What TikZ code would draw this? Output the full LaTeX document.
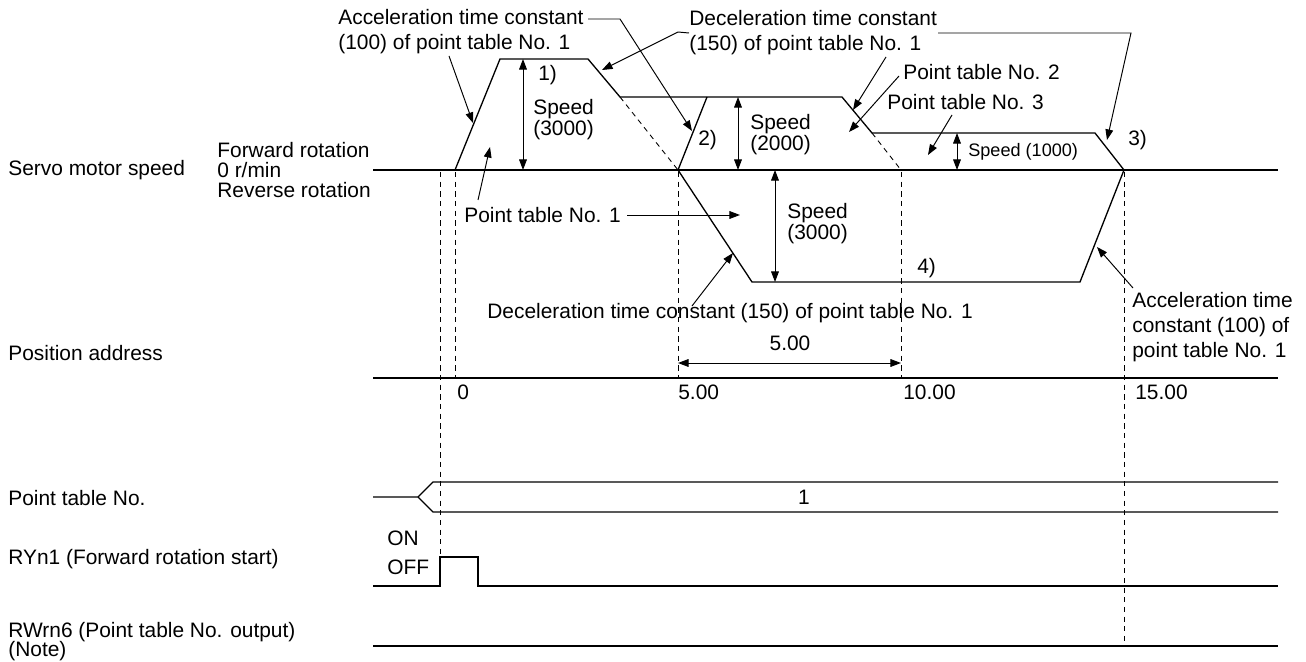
\documentclass[tikz,border=0pt]{standalone}
\usepackage{fontspec}
\setmainfont{Liberation Sans}
\usetikzlibrary{arrows.meta}

\begin{document}
\begin{tikzpicture}[
    x=0.02cm, y=-0.02cm,
    lbl/.style={inner sep=0pt, anchor=west, align=left,
      font=\fontsize{11.9}{14.2}\selectfont},
    tight/.style={lbl, font=\fontsize{11.9}{11.9}\selectfont},
    small/.style={lbl, font=\fontsize{10.3}{12}\selectfont},
    wave/.style={line width=0.75pt, line join=miter},
    guide/.style={line width=0.5pt, dash pattern=on 3pt off 2.5pt},
    lead/.style={line width=0.55pt, -{Triangle[length=6pt,width=4.4pt]}},
    dim/.style={line width=0.55pt,
      {Triangle[length=6pt,width=4.4pt]}-{Triangle[length=6pt,width=4.4pt]}},
  ]
  \useasboundingbox (0,0) rectangle (1306,662);

  % row labels
  \node[lbl] (servo) at (8,170) {Servo motor speed};
  \node[lbl, font=\fontsize{11.9}{11.3}\selectfont] (rot) at (217,170)
  {Forward rotation\\0 r/min\\Reverse rotation};
  \node[lbl] (posaddr) at (8,353) {Position address};
  \node[lbl] (ptno) at (8,498) {Point table No.};
  \node[lbl] (ryn1) at (8,559) {RYn1 (Forward rotation start)};
  \node[lbl] (on) at (387,538) {ON};
  \node[lbl] (off) at (387,567) {OFF};
  \node[lbl] (rwrn6) at (8,632) {RWrn6 (Point table No. output)};
  \node[lbl] (note) at (8,651) {(Note)};

  % speed waveform corners
  \coordinate (f0) at (455,170);
  \coordinate (f1) at (500,59);
  \coordinate (f2) at (588,59);
  \coordinate (f3) at (620,97);
  \coordinate (f4) at (842,97);
  \coordinate (f5) at (872,133);
  \coordinate (f6) at (1095,133);
  \coordinate (f7) at (1124,170);
  \coordinate (g0) at (678,170);
  \coordinate (g1) at (707,97);
  \coordinate (r1) at (752,282);
  \coordinate (r2) at (1080,282);
  \coordinate (z0) at (373,170);
  \coordinate (z1) at (1278,170);

  \draw[wave] (z0) -- (z1);
  \draw[wave] (f0) -- (f1) -- (f2) -- (f3) -- (f4) -- (f5) -- (f6) -- (f7);
  \draw[wave] (g0) -- (g1);
  \draw[wave] (g0) -- (r1) -- (r2) -- (f7);
  \draw[guide] (f3) -- (g0);
  \draw[guide] (f5) -- (901,170);

  % position address
  \coordinate (p0) at (373,378);
  \coordinate (p1) at (1278,378);
  \draw[wave] (p0) -- (p1);
  \node[lbl] (pos0) at (457,392) {0};
  \node[lbl] (pos5) at (678,392) {5.00};
  \node[lbl] (pos10) at (903,392) {10.00};
  \node[lbl] (pos15) at (1135,392) {15.00};

  % timing guides
  \draw[guide] (440,172) -- (440,557);
  \draw[guide] (455,172) -- (455,378);
  \draw[guide] (678,172) -- (678,378);
  \draw[guide] (901,172) -- (901,378);
  \draw[guide] (1124,172) -- (1124,646);

  % point table No.
  \draw[wave] (373,497) -- (418,497) -- (433,482) -- (1278,482);
  \draw[wave] (418,497) -- (433,512) -- (1278,512);
  \node[lbl, anchor=center] (pt1) at (804,497) {1};

  % RYn1 and RWrn6
  \draw[wave] (373,586) -- (440,586) -- (440,557) -- (478,557)
    -- (478,586) -- (1278,586);
  \draw[wave] (373,646) -- (1278,646);

  % speed values
  \draw[dim] (523,59) -- (523,170);
  \node[tight] (spd1) at (533,120) {Speed\\(3000)};
  \node[lbl] (m1) at (538,75) {1)};
  \draw[dim] (738,97) -- (738,170);
  \node[tight] (spd2) at (750,135) {Speed\\(2000)};
  \node[lbl] (m2) at (698,140) {2)};
  \draw[dim] (957,133) -- (957,170);
  \node[small] (spd3) at (968,152) {Speed (1000)};
  \node[lbl] (m3) at (1128,140) {3)};
  \draw[dim] (775,170) -- (775,282);
  \node[tight] (spd4) at (787,224) {Speed\\(3000)};
  \node[lbl] (m4) at (917,268) {4)};
  \draw[dim] (678,363) -- (901,363);
  \node[lbl, anchor=center] (span) at (790,343) {5.00};

  % annotations, upper
  \node[lbl] (acc) at (338,31.5)
  {Acceleration time constant\\(100) of point table No. 1};
  \draw[lead] (449,56) -- (473,123);
  \draw[lead] (588,19) -- (620,19) -- (692,131);
  \node[lbl] (dec) at (689,33)
  {Deceleration time constant\\(150) of point table No. 1};
  \draw[lead] (dec.west) -- (678,32) -- (602,70);
  \draw[lead] (938,33) -- (1131,33) -- (1107,140);
  \draw[lead] (886,57) -- (853,110);
  \node[lbl] (tab2) at (903,72) {Point table No. 2};
  \draw[lead] (899,76) -- (849,132);
  \node[lbl] (tab3) at (887,102) {Point table No. 3};
  \draw[lead] (952,115) -- (928,155);

  % annotations, lower
  \node[lbl] (tab1) at (464,215) {Point table No. 1};
  \draw[lead] (478,200) -- (490,147);
  \draw[lead] (627,215) -- (740,215);
  \node[lbl] (declow) at (487,313)
  {Deceleration time constant (150) of point table No. 1};
  \draw[lead] (692,306) -- (733,253);
  \node[lbl] (acclow) at (1132,327)
  {Acceleration time\\constant (100) of\\point table No. 1};
  \draw[lead] (1133,288) -- (1097,247);

\end{tikzpicture}
\end{document}
